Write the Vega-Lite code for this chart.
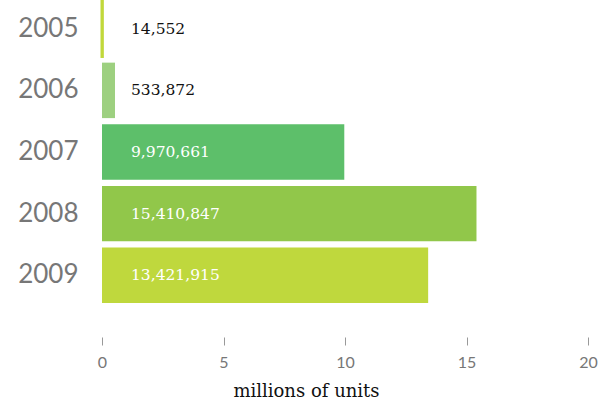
{
  "$schema": "https://vega.github.io/schema/vega-lite/v6.json",
  "width": 486,
  "height": 302,
  "autosize": {"type": "none"},
  "padding": {"left": 102, "top": 1, "right": 10, "bottom": 98},
  "background": "white",
  "config": {"view": {"stroke": null}},
  "data": {
    "values": [
      {"year": "2005", "units": 14552, "millions": 0.014552, "label": "14,552", "textColor": "dark"},
      {"year": "2006", "units": 533872, "millions": 0.533872, "label": "533,872", "textColor": "dark"},
      {"year": "2007", "units": 9970661, "millions": 9.970661, "label": "9,970,661", "textColor": "light"},
      {"year": "2008", "units": 15410847, "millions": 15.410847, "label": "15,410,847", "textColor": "light"},
      {"year": "2009", "units": 13421915, "millions": 13.421915, "label": "13,421,915", "textColor": "light"}
    ]
  },
  "encoding": {
    "y": {
      "field": "year",
      "type": "nominal",
      "sort": null,
      "scale": {"paddingInner": 0.1, "paddingOuter": 0},
      "axis": {
        "title": null,
        "domain": false,
        "ticks": false,
        "labelPadding": 24,
        "labelFont": "Lato",
        "labelFontSize": 26,
        "labelColor": "#777777"
      }
    }
  },
  "layer": [
    {
      "mark": {"type": "bar"},
      "encoding": {
        "x": {
          "field": "millions",
          "type": "quantitative",
          "scale": {"domain": [0, 20], "nice": false},
          "axis": {
            "values": [0, 5, 10, 15, 20],
            "title": "millions of units",
            "titleFont": "DejaVu Serif",
            "titleFontWeight": "normal",
            "titleFontSize": 18,
            "titleColor": "#111111",
            "titlePadding": 12,
            "titleX": 204,
            "domain": false,
            "grid": false,
            "offset": 34,
            "tickSize": 8,
            "tickColor": "#999999",
            "labelFont": "Lato",
            "labelFontSize": 16,
            "labelColor": "#777777",
            "labelPadding": 9,
            "labelFlush": false
          }
        },
        "color": {
          "field": "year",
          "type": "nominal",
          "scale": {
            "domain": ["2005", "2006", "2007", "2008", "2009"],
            "range": ["#c1d83b", "#9dd080", "#5dbf6a", "#91c74a", "#bfd83d"]
          },
          "legend": null
        },
        "stroke": {
          "field": "year",
          "type": "nominal",
          "scale": {
            "domain": ["2005", "2006", "2007", "2008", "2009"],
            "range": ["#c1d83b", "#9dd080", "#5dbf6a", "#91c74a", "#bfd83d"]
          },
          "legend": null
        },
        "strokeWidth": {
          "condition": {"test": "datum.year === '2005'", "value": 3},
          "value": 0
        }
      }
    },
    {
      "mark": {"type": "text", "align": "left", "baseline": "middle", "dx": 29, "font": "DejaVu Serif", "fontSize": 15.5},
      "encoding": {
        "x": {"datum": 0, "type": "quantitative"},
        "text": {"field": "label"},
        "color": {
          "field": "textColor",
          "type": "nominal",
          "scale": {"domain": ["dark", "light"], "range": ["#111111", "#ffffff"]},
          "legend": null
        }
      }
    }
  ],
  "resolve": {"scale": {"color": "independent"}}
}
